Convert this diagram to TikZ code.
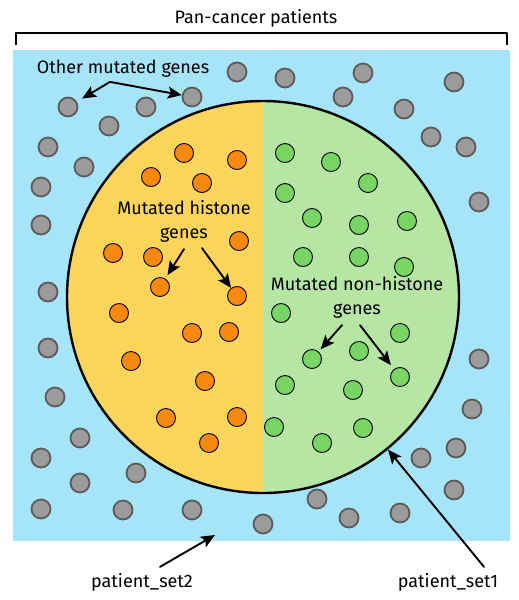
\documentclass[tikz,border=0pt]{standalone}
\usepackage{fontspec}
\setmainfont{Fira Sans}
\usetikzlibrary{arrows.meta}
\definecolor{bgblue}{HTML}{A6E5F9}
\definecolor{histfill}{HTML}{FCD55A}
\definecolor{nonfill}{HTML}{B5E6A3}
\definecolor{histdotc}{HTML}{F8890F}
\definecolor{nondotc}{HTML}{78D563}
\definecolor{dotgray}{HTML}{9C9B9B}
\definecolor{dotedge}{HTML}{5B5B5B}

\tikzset{
  graydot/.style={circle, draw=dotedge, fill=dotgray, line width=1.8pt, minimum size=19pt, inner sep=0pt},
  histdot/.style={circle, draw=black, fill=histdotc, line width=0.9pt, minimum size=19pt, inner sep=0pt},
  nondot/.style={circle, draw=black, fill=nondotc, line width=0.9pt, minimum size=19pt, inner sep=0pt},
  lbl/.style={font=\fontsize{18}{24}\selectfont, align=center, inner sep=0pt},
  arr/.style={-{Stealth[length=14pt,width=12pt,inset=3pt]}, line width=1.9pt}
}

\begin{document}
\begin{tikzpicture}[x=1pt, y=-1pt, line cap=round, line join=round]
  \useasboundingbox (0,0) rectangle (519,600);
  % background and bracket
  \fill[bgblue] (13,50) rectangle (510,541);
  \draw[line width=2pt, line cap=butt] (16,45) -- (16,33) -- (507,33) -- (507,45);
  \node[lbl] (title) at (256,18) {Pan-cancer patients};

  % patient pool, split in two halves
  \node[circle, draw, line width=2.4pt, minimum size=392pt, inner sep=0pt,
    path picture={
      \fill[histfill] (path picture bounding box.north west) rectangle (path picture bounding box.south);
      \fill[nonfill] (path picture bounding box.south) rectangle (path picture bounding box.north east);
    }] (pool) at (263,297) {};

  % other mutated genes
  \foreach \x/\y [count=\i] in {237/72, 285/78, 363/73, 454/82, 68/107, 146/107, 192/97,
      109/126, 343/97, 404/109, 431/137, 466/147, 48/147, 84/167, 41/187, 41/225,
      48/292, 479/202, 48/348, 55/397, 80/438, 41/458, 80/483, 136/473, 41/509,
      123/510, 192/510, 263/524, 317/499, 349/518, 400/513, 421/458, 456/448,
      454/490, 472/409, 479/359}
    \node[graydot] (g\i) at (\x,\y) {};

  % histone genes
  \foreach \x/\y [count=\i] in {184/153, 237/160, 151/177, 202/183, 239/241, 113/253,
      153/257, 160/287, 237/296, 119/313, 192/333, 229/332, 131/361, 205/381,
      166/418, 237/417, 209/443}
    \node[histdot] (h\i) at (\x,\y) {};

  % non-histone genes
  \foreach \x/\y [count=\i] in {285/153, 331/162, 368/183, 285/193, 312/218, 359/225,
      407/221, 303/257, 359/257, 404/267, 281/313, 400/333, 359/351, 312/359,
      400/377, 285/385, 353/390, 274/427, 363/428, 322/443}
    \node[nondot] (n\i) at (\x,\y) {};

  % labels
  \node[lbl] (other) at (123,69) {Other mutated genes};
  \node[lbl] (hist) at (184,221) {Mutated histone\\genes};
  \node[lbl] (nonhist) at (357,297) {Mutated non-histone\\genes};
  \node[lbl] (set2) at (142,582) {patient\_set2};
  \node[lbl] (set1) at (448,582) {patient\_set1};
  \coordinate (fork) at ([xshift=-13pt,yshift=-4pt]other.south);
  \coordinate (set2tip) at (215,535);

  % arrows
  \draw[arr, shorten >=6pt] (fork) -- (g5);
  \draw[arr] (fork) -- (g7);
  \draw[arr, shorten >=4pt] ([yshift=-7pt]hist.south) -- (h8);
  \draw[arr] ([xshift=18pt,yshift=-6pt]hist.south) -- (h9);
  \draw[arr, shorten >=3pt] ([xshift=-15pt,yshift=-7pt]nonhist.south) -- (n14);
  \draw[arr, shorten >=5pt] ([xshift=3pt,yshift=-7pt]nonhist.south) -- (n15);
  \draw[arr] ([xshift=18pt,yshift=6pt]set2.north) -- (set2tip);
  \draw[arr] ([xshift=36pt,yshift=6pt]set1.north) -- (pool);
\end{tikzpicture}
\end{document}
